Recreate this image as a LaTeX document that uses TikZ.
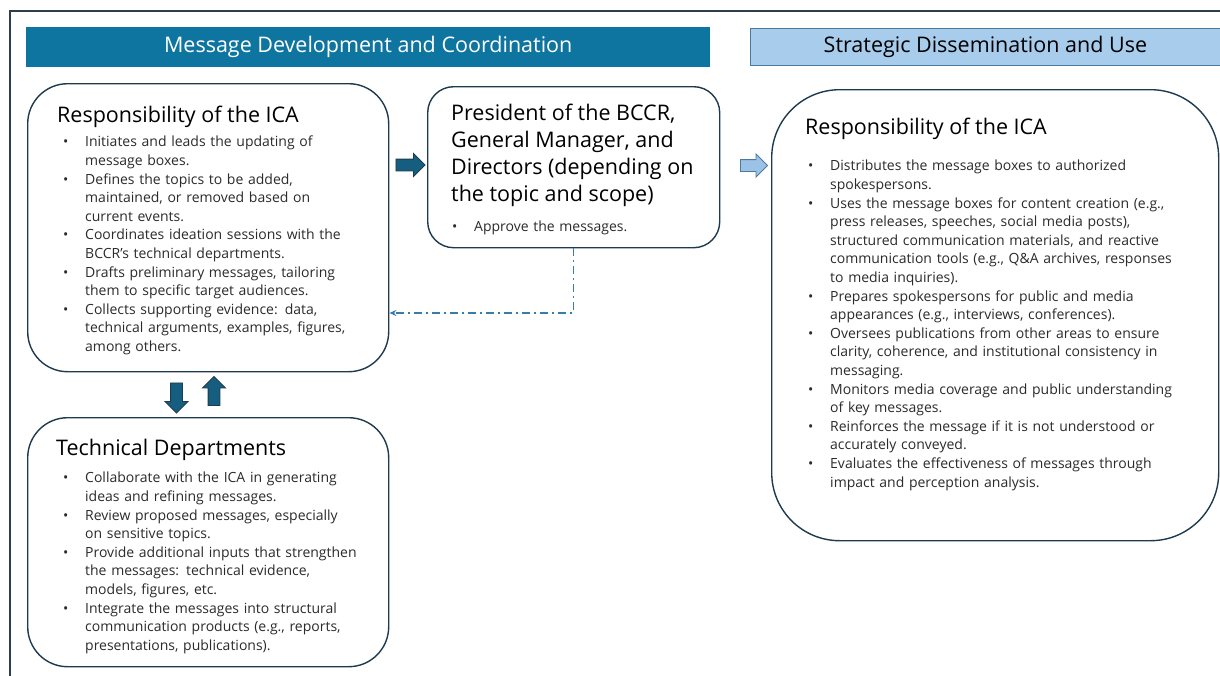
\documentclass[tikz,border=0pt]{standalone}
\usepackage{fontspec}
\setmainfont{Open Sans}
\usepackage{enumitem}
\usetikzlibrary{shapes.arrows,arrows.meta}

\definecolor{headblue}{HTML}{0E75A0}
\definecolor{headlight}{HTML}{A8CCEC}
\definecolor{headline}{HTML}{4A7AA0}
\definecolor{framegray}{HTML}{2E3F4C}
\definecolor{boxline}{HTML}{1E3A4E}
\definecolor{arrowdark}{HTML}{155E80}
\definecolor{arrowlight}{HTML}{9CC3E5}
\definecolor{linkblue}{HTML}{3A7CA8}
\definecolor{bodytext}{HTML}{2B2B2B}

\setlist[itemize]{label=\textbullet,leftmargin=22pt,labelsep=16pt,labelwidth=6pt,align=left,
  itemsep=0pt,topsep=0pt,parsep=0pt,partopsep=0pt}

\tikzset{
  panel/.style={draw=boxline,line width=1.4pt,fill=white,rounded corners=#1,anchor=north west,inner sep=0pt},
  header/.style={anchor=north west,inner sep=0pt,font=\fontsize{21.5}{26}\selectfont},
  boxtitle/.style={anchor=north west,inner sep=0pt,align=left,text=black,font=\fontsize{21.5}{27}\selectfont},
  bullets/.style={anchor=north west,inner sep=0pt,text width=#1,align=left,text=bodytext,font=\fontsize{14}{18.6}\selectfont},
  blockarrow/.style={single arrow,draw=boxline,line width=0.9pt,fill=arrowdark,inner sep=5.5pt,
    single arrow head extend=5.5pt,single arrow head indent=0pt,minimum height=29pt},
}

\begin{document}
\begin{tikzpicture}[x=1pt,y=-1pt]
\useasboundingbox (0,0) rectangle (1220,675);
\clip (0,0) rectangle (1220,675);
\draw[framegray,line width=1.6pt] (10,700) |- (1240,11);

\node[header,fill=headblue,text=white,minimum width=684pt,minimum height=40pt] (devHead) at (26,27) {Message Development and Coordination};
\node[header,draw=headline,line width=0.8pt,fill=headlight,text=black,minimum width=480pt,minimum height=37pt] (useHead) at (750,28) {\hspace*{-10pt}Strategic Dissemination and Use};

\node[panel=40pt,minimum width=361pt,minimum height=288pt] (icaDev) at (27,83) {};
\node[panel=26pt,minimum width=292pt,minimum height=161pt] (presBoard) at (427,86) {};
\node[panel=40pt,minimum width=361pt,minimum height=249pt] (techDept) at (27,417) {};
\node[panel=68pt,minimum width=447pt,minimum height=451pt] (icaUse) at (771,89) {};

\node[boxtitle] (icaDevTitle) at (57,106) {Responsibility of the ICA};
\node[bullets=330pt] (icaDevList) at (63,128) {
\begin{itemize}
\item Initiates and leads the updating of\\ message boxes.
\item Defines the topics to be added,\\ maintained, or removed based on\\ current events.
\item Coordinates ideation sessions with the\\ BCCR’s technical departments.
\item Drafts preliminary messages, tailoring\\ them to specific target audiences.
\item Collects supporting evidence: data,\\ technical arguments, examples, figures,\\ among others.
\end{itemize}};

\node[boxtitle] (presTitle) at (451,104) {President of the BCCR,\\ General Manager, and\\ Directors (depending on\\ the topic and scope)};
\node[bullets=250pt] (presList) at (452,213) {
\begin{itemize}
\item Approve the messages.
\end{itemize}};

\node[boxtitle] (techTitle) at (56,439) {Technical Departments};
\node[bullets=330pt] (techList) at (63,464) {
\begin{itemize}
\item Collaborate with the ICA in generating\\ ideas and refining messages.
\item Review proposed messages, especially\\ on sensitive topics.
\item Provide additional inputs that strengthen\\ the messages: technical evidence,\\ models, figures, etc.
\item Integrate the messages into structural\\ communication products (e.g., reports,\\ presentations, publications).
\end{itemize}};

\node[boxtitle] (icaUseTitle) at (805,118) {Responsibility of the ICA};
\node[bullets=420pt] (icaUseList) at (808,152) {
\begin{itemize}
\item Distributes the message boxes to authorized\\ spokespersons.
\item Uses the message boxes for content creation (e.g.,\\ press releases, speeches, social media posts),\\ structured communication materials, and reactive\\ communication tools (e.g., Q\&A archives, responses\\ to media inquiries).
\item Prepares spokespersons for public and media\\ appearances (e.g., interviews, conferences).
\item Oversees publications from other areas to ensure\\ clarity, coherence, and institutional consistency in\\ messaging.
\item Monitors media coverage and public understanding\\ of key messages.
\item Reinforces the message if it is not understood or\\ accurately conveyed.
\item Evaluates the effectiveness of messages through\\ impact and perception analysis.
\end{itemize}};

\node[blockarrow] (toPres) at (407.5,165) {};
\node[blockarrow,fill=arrowlight,draw=headline,minimum height=27pt] (toUse) at (751,165.5) {};
\node[blockarrow,shape border rotate=270,minimum height=30pt] (toTech) at (176.5,395) {};
\node[blockarrow,shape border rotate=90,minimum height=29pt] (toIca) at (214,394) {};

\draw[linkblue,line width=1.4pt,dash pattern=on 8pt off 4pt on 2pt off 4pt,-{Stealth[length=7pt,width=6pt]}]
  (presBoard.south) |- (icaDev.east |- 0,313);
\end{tikzpicture}
\end{document}
